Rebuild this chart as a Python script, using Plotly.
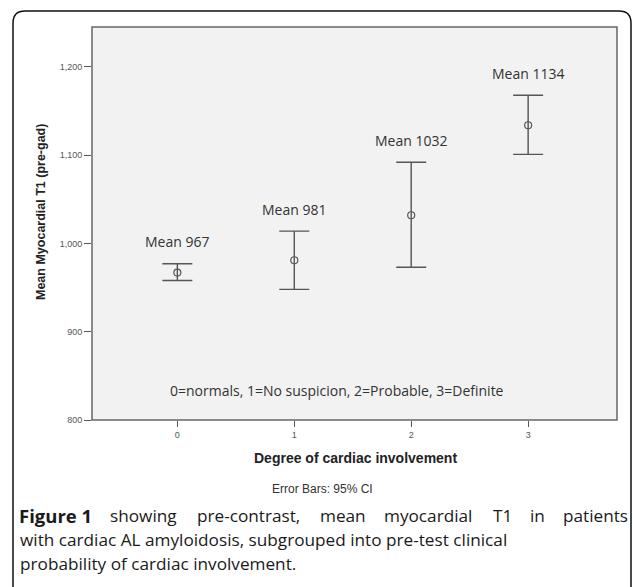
import plotly.graph_objects as go

# ---- data ----
groups = [0, 1, 2, 3]
means = [967, 981, 1032, 1134]
ci_upper = [977, 1014, 1092, 1168]
ci_lower = [958, 948, 973, 1101]
mean_labels = ["Mean 967", "Mean 981", "Mean 1032", "Mean 1134"]
y_ticks = [800, 900, 1000, 1100, 1200]
x_ticks = [0, 1, 2, 3]

W, H = 633, 587
ML, MR, MT, MB = 92, 16, 27, 167
PW = W - ML - MR
PH = H - MT - MB


def px(x):
    return (x - ML) / PW


def py(y):
    return (H - MB - y) / PH


fig = go.Figure()
fig.add_trace(go.Scatter(
    x=groups, y=means, mode="markers",
    marker=dict(symbol="circle-open", size=7, color="#555555", line=dict(width=1.2, color="#555555")),
    error_y=dict(type="data", symmetric=False,
                 array=[u - m for u, m in zip(ci_upper, means)],
                 arrayminus=[m - l for m, l in zip(means, ci_lower)],
                 width=15, thickness=1.4, color="#555555"),
    showlegend=False, hoverinfo="skip",
))


def page_text(x, y, text, font, xanchor="center", textangle=0):
    return dict(x=px(x), y=py(y), xref="paper", yref="paper", text=text, showarrow=False,
                xanchor=xanchor, yanchor="middle", textangle=textangle, font=font)


annotations = []
for g, u, lab in zip(groups, ci_upper, mean_labels):
    annotations.append(dict(x=g, y=u, xref="x", yref="y", text=lab, showarrow=False,
                            xanchor="center", yanchor="middle",
                            yshift=22, font=dict(family="Open Sans", size=14, color="#333333")))

annotations.append(page_text(337, 390, "0=normals, 1=No suspicion, 2=Probable, 3=Definite",
                             dict(family="Open Sans", size=14, color="#333333")))
annotations.append(page_text(41, 212, "<b>Mean Myocardial T1 (pre-gad)</b>",
                             dict(family="Liberation Sans", size=12.5, color="#222222"), textangle=-90))
annotations.append(page_text(355, 458, "<b>Degree of cardiac involvement</b>",
                             dict(family="Liberation Sans", size=14, color="#222222")))
annotations.append(page_text(322, 489, "Error Bars: 95% CI",
                             dict(family="Liberation Sans", size=12, color="#333333")))

cap_font = dict(family="Open Sans", size=17.2, color="#1a1a1a")
annotations.append(page_text(17, 515, "<b>Figure 1</b>",
                             dict(family="Open Sans", size=18.5, color="#1a1a1a"), xanchor="left"))
line1_words = [("showing", 108), ("pre-contrast,", 195), ("mean", 318),
               ("myocardial", 382), ("T1", 491), ("in", 528), ("patients", 561)]
for w, xx in line1_words:
    annotations.append(page_text(xx, 515, w, cap_font, xanchor="left"))
annotations.append(page_text(18, 539, "with cardiac AL amyloidosis, subgrouped into pre-test clinical",
                             cap_font, xanchor="left"))
annotations.append(page_text(18, 563, "probability of cardiac involvement.", cap_font, xanchor="left"))

# outer rounded border (bottom runs off the page)
L, T, R, B, r = 13, 11, 631, 620, 12
path = (f"M {px(L)},{py(B)} L {px(L)},{py(T + r)} Q {px(L)},{py(T)} {px(L + r)},{py(T)} "
        f"L {px(R - r)},{py(T)} Q {px(R)},{py(T)} {px(R)},{py(T + r)} L {px(R)},{py(B)}")

fig.update_layout(
    width=W, height=H,
    margin=dict(l=ML, r=MR, t=MT, b=MB),
    paper_bgcolor="white", plot_bgcolor="#f2f2f2",
    annotations=annotations,
    shapes=[
        dict(type="path", path=path, xref="paper", yref="paper", line=dict(color="#111111", width=1.5)),
        dict(type="rect", x0=0, x1=1, y0=0, y1=1, xref="paper", yref="paper",
             line=dict(color="#666666", width=1.5), layer="above"),
    ],
    xaxis=dict(range=[-0.73, 3.76], tickvals=x_ticks, ticks="outside", ticklen=6, tickwidth=1.3,
               tickcolor="#555555", showgrid=False, zeroline=False, showline=False, automargin=False,
               tickfont=dict(family="Liberation Sans", size=9, color="#555555")),
    yaxis=dict(range=[800, 1245.3], tickvals=y_ticks, tickformat=",", ticks="outside", ticklen=7,
               tickwidth=1.3, tickcolor="#555555", showgrid=False, zeroline=False, showline=False,
               automargin=False,
               tickfont=dict(family="Liberation Sans", size=9, color="#555555")),
)

fig.write_html("out.html", config={"displayModeBar": False},
               post_script="document.body.style.margin='0';")
